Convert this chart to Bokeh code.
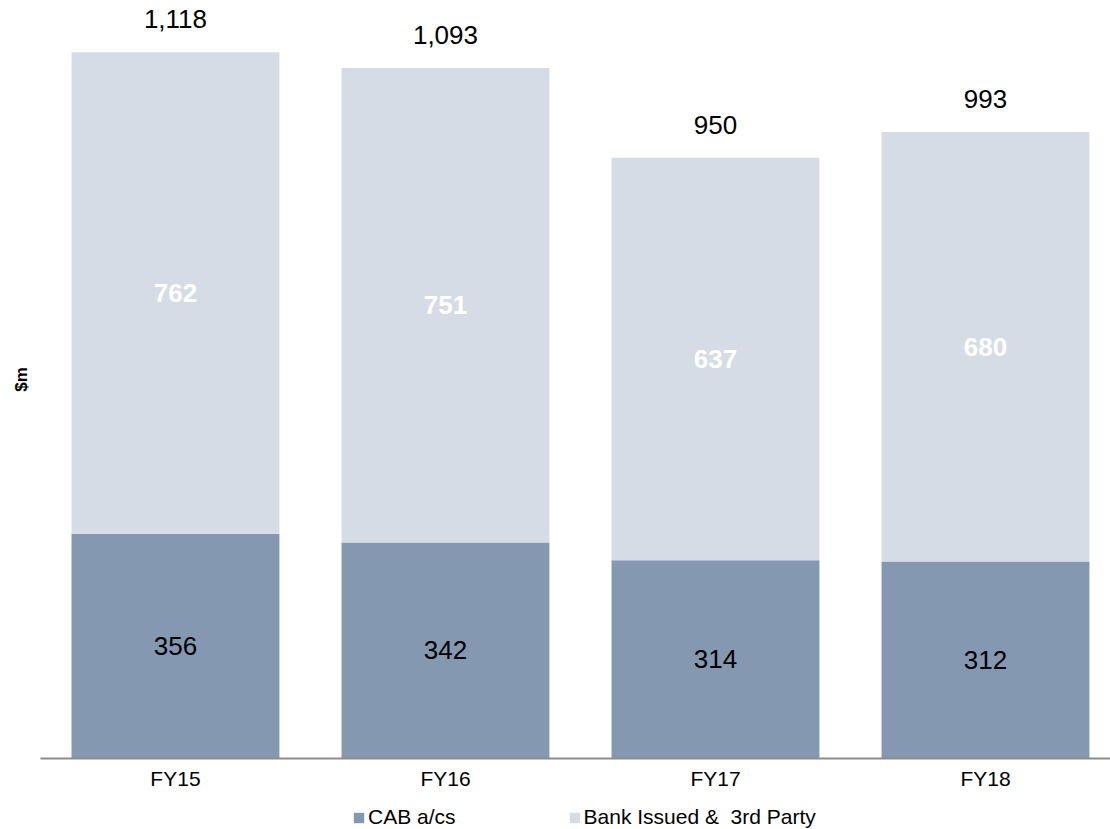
import math

from bokeh.plotting import figure
from bokeh.models import ColumnDataSource, Range1d, Legend, LegendItem
from bokeh.core.properties import value
from bokeh.embed import file_html
from bokeh.resources import INLINE

# Data ($m)
years = ["FY15", "FY16", "FY17", "FY18"]
cab_accounts = [356, 342, 314, 312]
bank_third_party = [762, 751, 637, 680]
totals = [1118, 1093, 950, 993]

CAB_COLOR = "#8598B1"
BANK_COLOR = "#D5DCE6"
FONT = "Liberation Sans"

xs = list(range(len(years)))
cab_mid = [c / 2 for c in cab_accounts]
bank_mid = [c + b / 2 for c, b in zip(cab_accounts, bank_third_party)]
stack_top = [c + b for c, b in zip(cab_accounts, bank_third_party)]

src = ColumnDataSource(dict(
    x=xs,
    zero=[0] * len(xs),
    year=years,
    cab=cab_accounts,
    bank=bank_third_party,
    cab_mid=cab_mid,
    bank_mid=bank_mid,
    top=stack_top,
    cab_lbl=[str(v) for v in cab_accounts],
    bank_lbl=[str(v) for v in bank_third_party],
    tot_lbl=[f"{v:,}" for v in totals],
))

# The frame covers the whole canvas; the space below zero holds the
# category labels and the legend, the strip on the left the unit title.
X_START, X_END = -0.648, 3.463
Y_TOP = 1200
p = figure(width=1110, height=829, output_backend="svg", toolbar_location=None,
           x_range=Range1d(X_START, X_END), y_range=Range1d(-112.4, Y_TOP),
           min_border=0)
p.outline_line_color = None
p.grid.visible = False
p.axis.visible = False
p.background_fill_color = "white"
p.border_fill_color = "white"

r_cab = p.vbar(x="x", top="cab", bottom=0, width=0.77, source=src,
               fill_color=CAB_COLOR, line_color=None)
r_bank = p.vbar(x="x", top="top", bottom="cab", width=0.77, source=src,
                fill_color=BANK_COLOR, line_color=None)

# baseline
p.segment(x0=-0.5, y0=0, x1=X_END, y1=0, line_color="#8C8C8C", line_width=2)

p.text(x="x", y="cab_mid", text="cab_lbl", source=src, text_align="center",
       text_baseline="middle", text_font=value(FONT), text_font_size="26px",
       text_color="black")
p.text(x="x", y="bank_mid", text="bank_lbl", source=src, text_align="center",
       text_baseline="middle", text_font=value(FONT), text_font_size="26px",
       text_font_style="bold", text_color="white")
p.text(x="x", y="top", text="tot_lbl", source=src, text_align="center",
       text_baseline="middle", y_offset=-33, text_font=value(FONT),
       text_font_size="26px", text_color="black")

# category labels under the baseline
p.text(x="x", y="zero", text="year", source=src, text_align="center",
       text_baseline="middle", y_offset=20, text_font=value(FONT),
       text_font_size="21px", text_color="black")

# unit title, rotated, on the left
p.text(x=[X_START], y=[Y_TOP / 2], text=["$m"], angle=math.pi / 2,
       x_offset=21, text_align="center", text_baseline="middle",
       text_font=value(FONT), text_font_size="17px", text_font_style="bold",
       text_color="black")

legend = Legend(items=[
    LegendItem(label="CAB a/cs", renderers=[r_cab]),
    LegendItem(label="Bank Issued &  3rd Party", renderers=[r_bank]),
], orientation="horizontal", location=(352, 0),
    label_text_font=FONT, label_text_font_size="21px", label_text_color="black",
    glyph_width=13, glyph_height=13, label_standoff=3, spacing=112,
    border_line_color=None, background_fill_alpha=0, padding=0, margin=0)
p.add_layout(legend, "center")

open("out.html", "w").write(file_html(p, INLINE))
